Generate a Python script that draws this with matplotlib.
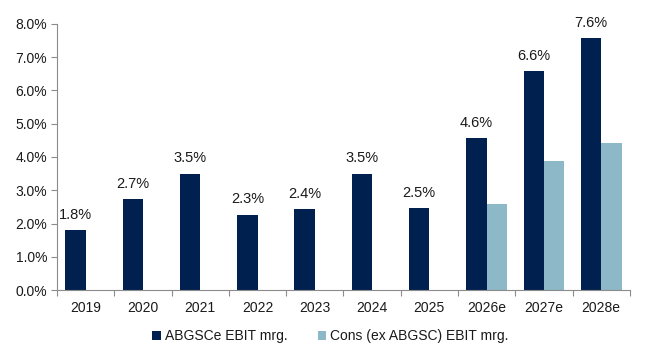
import matplotlib
matplotlib.use("Agg")
import matplotlib.pyplot as plt
import numpy as np

categories = ["2019", "2020", "2021", "2022", "2023", "2024", "2025", "2026e", "2027e", "2028e"]
abgsc = [1.81, 2.74, 3.50, 2.27, 2.44, 3.50, 2.47, 4.56, 6.58, 7.57]
abgsc_labels = ["1.8%", "2.7%", "3.5%", "2.3%", "2.4%", "3.5%", "2.5%", "4.6%", "6.6%", "7.6%"]
cons = [np.nan, np.nan, np.nan, np.nan, np.nan, np.nan, np.nan, 2.60, 3.89, 4.42]
yticks = [0, 1, 2, 3, 4, 5, 6, 7, 8]

plt.rcParams['font.family'] = ['Liberation Sans', 'DejaVu Sans']
dark = "#00214f"
light = "#8cb8c8"
txt = "#1a1a1a"

fig = plt.figure(figsize=(6.48, 3.56), dpi=100)
ax = fig.add_axes([0.088, 0.185, 0.884, 0.748])

x = np.arange(len(categories))
w = 0.355
ax.bar(x - w / 2, abgsc, width=w, color=dark, label="ABGSCe EBIT mrg.")
ax.bar(x + w / 2, cons, width=w, color=light, label="Cons (ex ABGSC) EBIT mrg.")

for xi, v, lab in zip(x, abgsc, abgsc_labels):
    ax.text(xi - w / 2, v + 0.25, lab, ha="center", va="bottom", fontsize=10.5, color=txt)

ax.set_xlim(-0.5, len(categories) - 0.5)
ax.set_ylim(0, 8)
ax.set_yticks(yticks)
ax.set_yticklabels([f"{t:.1f}%" for t in yticks], fontsize=10, color=txt)
ax.set_xticks(x)
ax.set_xticklabels(categories, fontsize=10, color=txt)
ax.tick_params(axis="x", length=0, pad=8)
ax.set_xticks(np.arange(-0.5, len(categories)), minor=True)
ax.tick_params(axis="x", which="minor", length=4, color="#8c8c8c", width=0.8)
ax.tick_params(axis="y", length=4, color="#8c8c8c", width=0.8, pad=3)

for s in ["top", "right"]:
    ax.spines[s].set_visible(False)
for s in ["left", "bottom"]:
    ax.spines[s].set_color("#8c8c8c")
    ax.spines[s].set_linewidth(0.8)

fig.legend(loc="center", bbox_to_anchor=(0.51, 0.055), ncol=2, frameon=False,
           fontsize=10, handlelength=0.6, handleheight=0.6, handletextpad=0.3,
           columnspacing=2.2, labelcolor=txt)

fig.savefig("out.png", dpi=100)
